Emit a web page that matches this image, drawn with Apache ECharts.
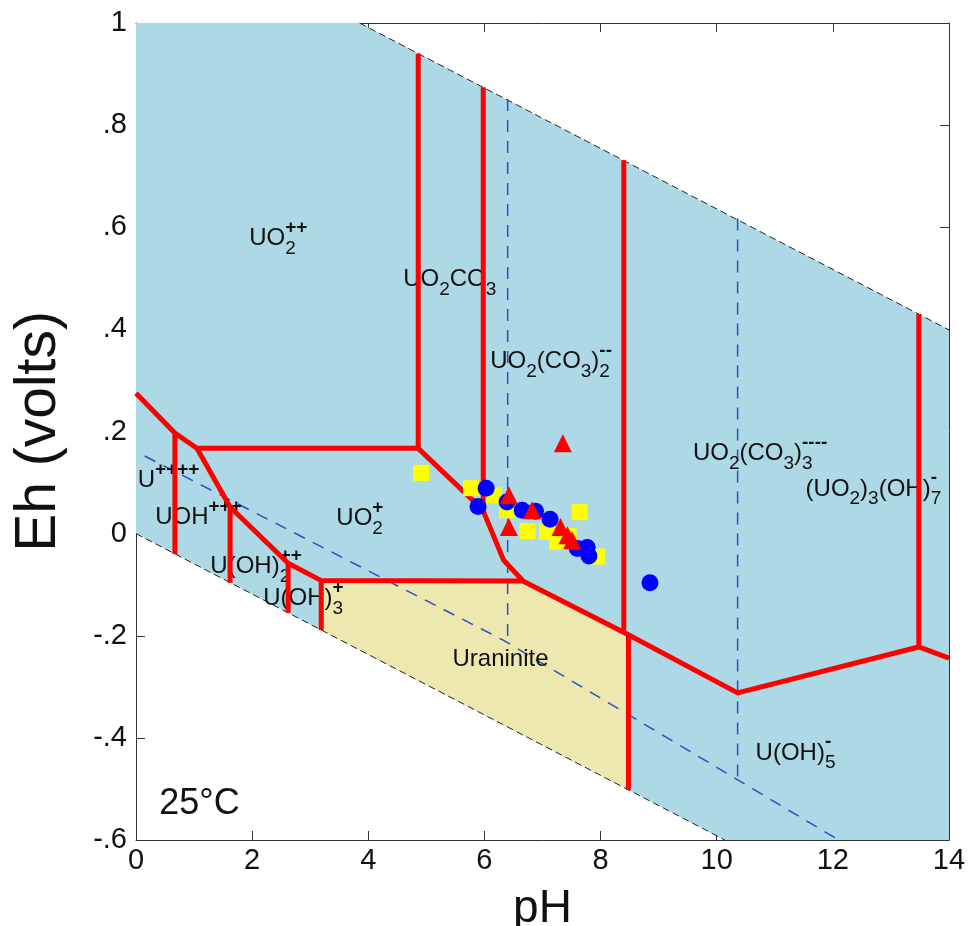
<!DOCTYPE html>
<html lang="en">
<head>
<meta charset="utf-8" />
<title>Eh-pH uranium</title>
<script src="https://cdn.jsdelivr.net/npm/echarts@6/dist/echarts.min.js"></script>
<style>
  html, body { margin: 0; padding: 0; background: #fff; }
  #main { width: 971px; height: 926px; }
</style>
</head>
<body>
<div id="main"></div>
<script>
// all points are [pH, Eh]
var upperWater = [[3.85, 1.0], [14, 0.399]];
var lowerWater = [[0, 0], [10.14, -0.6]];

var solutionField = [[0, 1], [3.85, 1], [14, 0.399], [14, -0.6], [10.14, -0.6], [0, 0]];
var uraniniteField = [[3.19, -0.092], [6.67, -0.093], [8.45, -0.195], [8.45, -0.500], [3.19, -0.189]];

// red field boundaries
var boundaries = [
  [[0, 0.275], [0.67, 0.197], [1.05, 0.167], [4.86, 0.167]],
  [[1.05, 0.167], [1.62, 0.052], [2.62, -0.058], [3.19, -0.092], [6.67, -0.093]],
  [[0.67, 0.197], [0.67, -0.040]],
  [[1.62, 0.052], [1.62, -0.096]],
  [[2.62, -0.058], [2.62, -0.155]],
  [[3.19, -0.092], [3.19, -0.189]],
  [[4.86, 0.940], [4.86, 0.167]],
  [[4.86, 0.167], [5.97, 0.047], [6.33, -0.052], [6.67, -0.093], [8.43, -0.195],
   [10.36, -0.312], [13.48, -0.222], [14, -0.244]],
  [[5.98, 0.874], [5.98, 0.050]],
  [[8.40, 0.731], [8.40, -0.195]],
  [[8.48, -0.195], [8.48, -0.502]],
  [[13.48, 0.430], [13.48, -0.222]]
];

// blue dashed (carbonate / minor lines)
var dashedLines = [
  [[0.15, 0.152], [6.33, -0.209], [12.1, -0.6]],
  [[6.40, 0.851], [6.40, -0.214]],
  [[10.36, 0.617], [10.36, -0.482]]
];

// samples
var squares = [
  [4.91, 0.119], [5.77, 0.089], [6.16, 0.075], [6.39, 0.046], [6.74, 0.005],
  [7.08, 0.004], [7.64, 0.042], [7.25, -0.016], [7.94, -0.045], [7.45, -0.005]
];
var circles = [
  [6.03, 0.089], [5.89, 0.053], [6.39, 0.062], [6.65, 0.046], [6.88, 0.044],
  [7.13, 0.028], [7.60, -0.029], [7.77, -0.027], [7.80, -0.044], [8.85, -0.096]
];
var triangles = [
  [7.35, 0.177], [6.42, 0.075], [6.82, 0.046], [6.42, 0.013], [7.31, 0.013],
  [7.43, -0.003], [7.51, -0.013]
];

var yTickText = ['-.6', '-.4', '-.2', '0', '.2', '.4', '.6', '.8', '1'];

// labels: [pH, Eh of baseline, [[text, sub, sup], ...], size]
var labels = [
  [1.95, 0.561, [['UO', '2', '++']], 24],
  [4.60, 0.481, [['UO', '2', ''], ['CO', '3', '']], 24],
  [6.10, 0.320, [['UO', '2', ''], ['(CO', '3', ''], [')', '2', '--']], 24],
  [9.59, 0.140, [['UO', '2', ''], ['(CO', '3', ''], [')', '3', '----']], 24],
  [11.53, 0.071, [['(UO', '2', ''], [')', '3', ''], ['(OH)', '7', '-']], 24],
  [10.67, -0.446, [['U(OH)', '5', '-']], 24],
  [0.03, 0.087, [['U', '', '++++']], 24],
  [0.33, 0.015, [['UOH', '', '+++']], 24],
  [3.45, 0.013, [['UO', '2', '+']], 24],
  [1.28, -0.081, [['U(OH)', '2', '++']], 24],
  [2.19, -0.144, [['U(OH)', '3', '+']], 24],
  [5.45, -0.262, [['Uraninite', '', '']], 24],
  [0.40, -0.555, [['25°C', '', '']], 36]
];

var FONT = '"Liberation Sans", Arial, sans-serif';
var measureCtx = document.createElement('canvas').getContext('2d');
function textWidth(s, size, weight) {
  measureCtx.font = (weight || 'normal') + ' ' + size + 'px ' + FONT;
  return measureCtx.measureText(s).width;
}
function txt(s, x, base, size, weight) {
  return {
    type: 'text',
    style: {
      text: s, x: x, y: base - size * 0.35,
      font: (weight || 'normal') + ' ' + size + 'px ' + FONT, fill: '#111',
      align: 'left', verticalAlign: 'middle'
    }
  };
}
function renderLabel(params, api) {
  var lab = labels[params.dataIndex];
  var p = api.coord([lab[0], lab[1]]);
  var x = p[0], base = p[1], size = lab[3], small = Math.round(size * 0.78);
  var kids = [];
  lab[2].forEach(function (tok) {
    kids.push(txt(tok[0], x, base, size));
    x += textWidth(tok[0], size);
    var adv = 0;
    if (tok[1]) { kids.push(txt(tok[1], x, base + 8, small)); adv = textWidth(tok[1], small); }
    if (tok[2]) {
      kids.push(txt(tok[2], x, base - 13, small, 'bold'));
      adv = Math.max(adv, textWidth(tok[2], small, 'bold'));
    }
    x += adv;
  });
  return { type: 'group', children: kids };
}
function polygonSeries(pts, color, z) {
  return {
    type: 'custom', z: z, silent: true,
    data: [0],
    renderItem: function (params, api) {
      return {
        type: 'polygon',
        shape: { points: pts.map(function (q) { return api.coord(q); }) },
        style: { fill: color, stroke: null }
      };
    }
  };
}
function lineSeries(pts, style, z) {
  return {
    type: 'line', data: pts, z: z, silent: true,
    showSymbol: false, symbol: 'none', lineStyle: style
  };
}

var chart = echarts.init(document.getElementById('main'));

var series = [
  polygonSeries(solutionField, '#add8e6', 1),
  polygonSeries(uraniniteField, '#ede8b0', 2),
  lineSeries(upperWater, { color: '#222', width: 1, type: [7, 4] }, 3),
  lineSeries(lowerWater, { color: '#222', width: 1, type: [7, 4] }, 3)
];
dashedLines.forEach(function (d) {
  series.push(lineSeries(d, { color: '#2a4fc4', width: 1.5, type: [12, 9] }, 4));
});
series.push({ type: 'custom', z: 5, silent: true, data: labels.map(function (l, i) { return i; }), renderItem: renderLabel });
boundaries.forEach(function (b) {
  series.push(lineSeries(b, { color: '#ff0000', width: 5, cap: 'butt', join: 'miter' }, 6));
});
series.push(
  { type: 'scatter', data: squares, symbol: 'rect', symbolSize: 16, z: 7,
    itemStyle: { color: '#ffff00', opacity: 1 } },
  { type: 'scatter', data: circles, symbol: 'circle', symbolSize: 17, z: 8,
    itemStyle: { color: '#0000ff', opacity: 1 } },
  { type: 'scatter', data: triangles, symbol: 'triangle', symbolSize: 18, z: 9,
    itemStyle: { color: '#ff0000', opacity: 1 } }
);

var axisLine = { show: true, onZero: false, lineStyle: { color: '#333', width: 1 } };
var tick = { show: true, inside: true, length: 9, lineStyle: { color: '#333' } };

chart.setOption({
  animation: false,
  textStyle: { fontFamily: FONT },
  grid: { left: 136, right: 22, top: 23, bottom: 86, containLabel: false, outerBoundsMode: 'none' },
  xAxis: [
    {
      type: 'value', min: 0, max: 14, interval: 2, position: 'bottom',
      axisLine: axisLine, axisTick: tick, splitLine: { show: false },
      axisLabel: { color: '#111', fontSize: 29, margin: 6 },
      name: 'pH', nameLocation: 'middle', nameGap: 46, nameMoveOverlap: false,
      nameTextStyle: { color: '#111', fontSize: 46 }
    },
    {
      type: 'value', min: 0, max: 14, interval: 2, position: 'top',
      axisLine: axisLine, axisTick: tick, splitLine: { show: false },
      axisLabel: { show: false }
    }
  ],
  yAxis: [
    {
      type: 'value', min: -0.6, max: 1, interval: 0.2, position: 'left',
      axisLine: axisLine, axisTick: tick, splitLine: { show: false },
      axisLabel: {
        color: '#111', fontSize: 29, margin: 9,
        formatter: function (v) { return yTickText[Math.round((v + 0.6) / 0.2)]; }
      },
      name: 'Eh (volts)', nameLocation: 'middle', nameGap: 68, nameRotate: 90, nameMoveOverlap: false,
      nameTextStyle: { color: '#111', fontSize: 57 }
    },
    {
      type: 'value', min: -0.6, max: 1, interval: 0.2, position: 'right',
      axisLine: axisLine, axisTick: tick, splitLine: { show: false },
      axisLabel: { show: false }
    }
  ],
  series: series
});
</script>
</body>
</html>
